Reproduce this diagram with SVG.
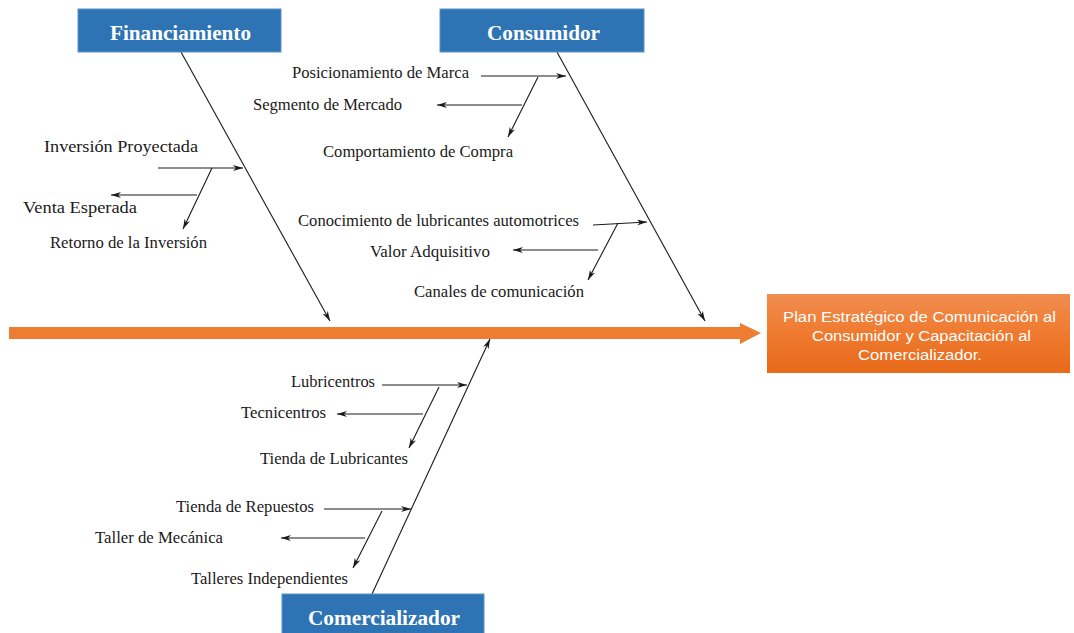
<svg xmlns="http://www.w3.org/2000/svg" width="1074" height="633" viewBox="0 0 1074 633">
<defs>
<marker id="ah" viewBox="0 0 10 6" refX="10" refY="3" markerWidth="10" markerHeight="6" markerUnits="userSpaceOnUse" orient="auto">
<path d="M0,0 L10,3 L0,6 L3,3 Z" fill="#1a1a1a"/>
</marker>
<linearGradient id="og" x1="0" y1="0" x2="0" y2="1">
<stop offset="0" stop-color="#F18D4F"/>
<stop offset="0.5" stop-color="#EF7A2F"/>
<stop offset="1" stop-color="#E86A1A"/>
</linearGradient>
</defs>
<style>
.hdr{fill:#2E74B5;stroke:#5B93C8;stroke-width:1}
.ht{font-family:"Liberation Serif","Times New Roman",serif;font-weight:bold;font-size:20px;fill:#fff;text-anchor:middle}
.lbl{font-family:"Liberation Serif","Times New Roman",serif;font-size:16px;fill:#1a1a1a}
.arr{stroke:#1a1a1a;stroke-width:1.1;fill:none;marker-end:url(#ah)}
.ot{font-family:"Liberation Sans",Arial,sans-serif;font-size:15.5px;fill:#fff;text-anchor:middle}
</style>
<rect width="1074" height="633" fill="#fff"/>
<g id="main-arrow">
<polygon points="9,327 740,327 740,323 761,333 740,344 740,339 9,339" fill="#ED7D31"/>
</g>
<g id="connectors">
<line class="arr" x1="181" y1="52" x2="330" y2="321"/>
<line class="arr" x1="557" y1="52" x2="705" y2="321"/>
<line class="arr" x1="372" y1="594" x2="490" y2="339"/>
<line class="arr" x1="158" y1="168" x2="243" y2="168"/>
<line class="arr" x1="212" y1="168" x2="183" y2="229"/>
<line class="arr" x1="197" y1="195" x2="111" y2="195"/>
<line class="arr" x1="481" y1="76" x2="566" y2="76"/>
<line class="arr" x1="538" y1="77" x2="508" y2="137"/>
<line class="arr" x1="522" y1="105" x2="437" y2="105"/>
<line class="arr" x1="593" y1="225" x2="647" y2="222"/>
<line class="arr" x1="618" y1="223" x2="588" y2="280"/>
<line class="arr" x1="598" y1="250" x2="513" y2="250"/>
<line class="arr" x1="382" y1="385" x2="467" y2="385"/>
<line class="arr" x1="439" y1="387" x2="409" y2="448"/>
<line class="arr" x1="423" y1="414" x2="337" y2="414"/>
<line class="arr" x1="324" y1="509" x2="411" y2="509"/>
<line class="arr" x1="382" y1="511" x2="353" y2="568"/>
<line class="arr" x1="365" y1="538" x2="281" y2="538"/>
</g>
<g id="financiamiento">
<rect class="hdr" x="78" y="9" width="203" height="43"/>
<text class="ht" x="180.5" y="40" textLength="141" lengthAdjust="spacingAndGlyphs">Financiamiento</text>
</g>
<g id="consumidor">
<rect class="hdr" x="440" y="9" width="204" height="43"/>
<text class="ht" x="543.5" y="40" textLength="113" lengthAdjust="spacingAndGlyphs">Consumidor</text>
</g>
<g id="comercializador">
<rect class="hdr" x="282" y="594" width="202" height="45"/>
<text class="ht" x="384" y="625" textLength="152" lengthAdjust="spacingAndGlyphs">Comercializador</text>
</g>
<g id="plan">
<rect x="767" y="294" width="303" height="79" fill="url(#og)"/>
<text class="ot" x="919.5" y="322" textLength="273" lengthAdjust="spacingAndGlyphs">Plan Estratégico de Comunicación al</text>
<text class="ot" x="921.5" y="341" textLength="219" lengthAdjust="spacingAndGlyphs">Consumidor y Capacitación al</text>
<text class="ot" x="920" y="360" textLength="124" lengthAdjust="spacingAndGlyphs">Comercializador.</text>
</g>
<g id="labels-financiamiento">
<text class="lbl" x="44" y="152" textLength="154" lengthAdjust="spacingAndGlyphs">Inversión Proyectada</text>
<text class="lbl" x="23" y="213" textLength="114" lengthAdjust="spacingAndGlyphs">Venta Esperada</text>
<text class="lbl" x="50" y="248" textLength="157" lengthAdjust="spacingAndGlyphs">Retorno de la Inversión</text>
</g>
<g id="labels-consumidor">
<text class="lbl" x="292" y="78" textLength="177" lengthAdjust="spacingAndGlyphs">Posicionamiento de Marca</text>
<text class="lbl" x="253" y="110" textLength="149" lengthAdjust="spacingAndGlyphs">Segmento de Mercado</text>
<text class="lbl" x="323" y="157" textLength="190" lengthAdjust="spacingAndGlyphs">Comportamiento de Compra</text>
<text class="lbl" x="298" y="226" textLength="281" lengthAdjust="spacingAndGlyphs">Conocimiento de lubricantes automotrices</text>
<text class="lbl" x="370" y="257" textLength="120" lengthAdjust="spacingAndGlyphs">Valor Adquisitivo</text>
<text class="lbl" x="414" y="297" textLength="170" lengthAdjust="spacingAndGlyphs">Canales de comunicación</text>
</g>
<g id="labels-comercializador">
<text class="lbl" x="291" y="387" textLength="84" lengthAdjust="spacingAndGlyphs">Lubricentros</text>
<text class="lbl" x="241" y="418" textLength="85" lengthAdjust="spacingAndGlyphs">Tecnicentros</text>
<text class="lbl" x="260" y="464" textLength="148" lengthAdjust="spacingAndGlyphs">Tienda de Lubricantes</text>
<text class="lbl" x="176" y="512" textLength="138" lengthAdjust="spacingAndGlyphs">Tienda de Repuestos</text>
<text class="lbl" x="95" y="543" textLength="128" lengthAdjust="spacingAndGlyphs">Taller de Mecánica</text>
<text class="lbl" x="191" y="584" textLength="157" lengthAdjust="spacingAndGlyphs">Talleres Independientes</text>
</g>
</svg>
